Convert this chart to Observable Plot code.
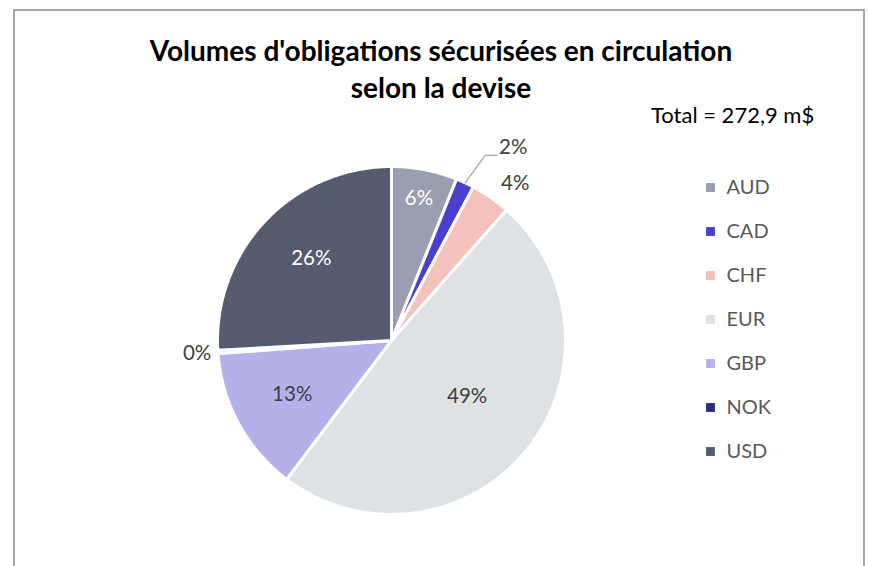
<!DOCTYPE html>
<html><head><meta charset="utf-8">
<script src="https://cdn.jsdelivr.net/npm/d3@7"></script>
<script src="https://cdn.jsdelivr.net/npm/@observablehq/plot@0.6"></script>
<style>
body{margin:0;background:#fff;font-family:Lato,"Open Sans",sans-serif;}
#wrap{position:relative;width:869px;height:566px;overflow:hidden;}
#frame{position:absolute;left:13px;top:9px;width:852px;height:600px;border:2px solid #a6a6a6;box-sizing:border-box;}
#title{position:absolute;left:0;width:882px;top:32px;text-align:center;font-weight:bold;font-size:28px;line-height:37px;color:#000;}
#total{position:absolute;left:651px;top:102px;font-size:22px;line-height:26px;color:#000;}
#pie{position:absolute;left:191px;top:140px;}
#legend{position:absolute;left:700px;top:171px;}
</style></head>
<body><div id="wrap"><div id="frame"></div>
<div id="title">Volumes d'obligations sécurisées en circulation<br>selon la devise</div>
<div id="total">Total = 272,9 m$</div>
<div id="pie"></div><div id="legend"></div></div>
<script>
const currencies = ["AUD","CAD","CHF","EUR","GBP","NOK","USD"];
const shares = [6.1, 1.7, 3.7, 48.8, 13.5, 0.3, 25.9];
const labels = ["6%","2%","4%","49%","13%","0%","26%"];
const colors = ["#9a9eb1","#4a3fcf","#f4c1bd","#dfe2e5","#b4b1ea","#2d2a80","#575b70"];

// layout: label distance from centre (in radii), angular nudge (rad) and text colour
const labelR = [0.83, 1.32, 1.15, 0.54, 0.65, 1.12, 0.66];
const labelTurn = [0, 0, 0.06, -0.05, 0, 0, 0.04];
const labelFill = ["#ffffff","#404040","#404040","#404040","#404040","#404040","#ffffff"];

const data = currencies.map((c,i)=>({c, v: shares[i], label: labels[i]}));
const arcs = d3.pie().sort(null).value(d=>d.v)(data);

const pts = [];
arcs.forEach(a=>{
  pts.push({c:a.data.c, x:0, y:0});
  const n = Math.max(2, Math.ceil((a.endAngle-a.startAngle)/0.01));
  for(let k=0;k<=n;k++){
    const t = a.startAngle + (a.endAngle-a.startAngle)*k/n;
    pts.push({c:a.data.c, x:Math.sin(t), y:Math.cos(t)});
  }
});
const labs = arcs.map((a,i)=>{
  const m = (a.startAngle+a.endAngle)/2 + labelTurn[i];
  const r = labelR[i];
  return {c:a.data.c, label:a.data.label, x:r*Math.sin(m), y:r*Math.cos(m), fill:labelFill[i], anchor:"middle"};
});
// leader line for the small CAD slice
const cadArc = arcs[1];
const cm = (cadArc.startAngle+cadArc.endAngle)/2;
const elbow = {x:Math.sin(cm)*1.13 + 0.06, y:Math.cos(cm)*1.13 + 0.04};
const leader = [
  {x:Math.sin(cm), y:Math.cos(cm)},
  elbow,
  {x:elbow.x + 0.07, y:elbow.y}
];
labs[1].x = leader[2].x + 0.01; labs[1].y = leader[2].y + 0.045; labs[1].anchor = "start";

const S = 400, R = 174;
const dom = [-(S/2)/R, (S/2)/R];
const pie = Plot.plot({
  width:S, height:S, margin:0,
  x:{domain:dom, axis:null}, y:{domain:dom, axis:null},
  color:{domain:currencies, range:colors},
  marks:[
    Plot.line(pts,{x:"x",y:"y",z:"c",fill:"c",stroke:"white",strokeWidth:3,curve:"linear-closed"}),
    Plot.line(leader,{x:"x",y:"y",stroke:"#a6a6a6",strokeWidth:1.3}),
    Plot.text(labs.filter(d=>d.anchor==="middle"),{x:"x",y:"y",text:"label",fill:d=>d.fill,fontSize:20.5,fontFamily:"Lato, 'Open Sans', sans-serif"}),
    Plot.text(labs.filter(d=>d.anchor==="start"),{x:"x",y:"y",text:"label",fill:d=>d.fill,textAnchor:"start",fontSize:20.5,fontFamily:"Lato, 'Open Sans', sans-serif"})
  ],
  style:{overflow:"visible"}
});
document.getElementById("pie").append(pie);

const leg = Plot.plot({
  width:140, height:296, marginLeft:10, marginRight:10, marginTop:15, marginBottom:15,
  x:{axis:null, domain:[0,1]}, y:{domain:currencies, axis:null, padding:0},
  color:{domain:currencies, range:colors},
  marks:[
    Plot.dot(currencies,{x:0,y:d=>d,fill:d=>d,symbol:"square",r:5}),
    Plot.text(currencies,{x:0,y:d=>d,text:d=>d,dx:16,textAnchor:"start",fill:"#595959",fontSize:20,fontFamily:"Lato, 'Open Sans', sans-serif"})
  ]
});
document.getElementById("legend").append(leg);
</script></body></html>
